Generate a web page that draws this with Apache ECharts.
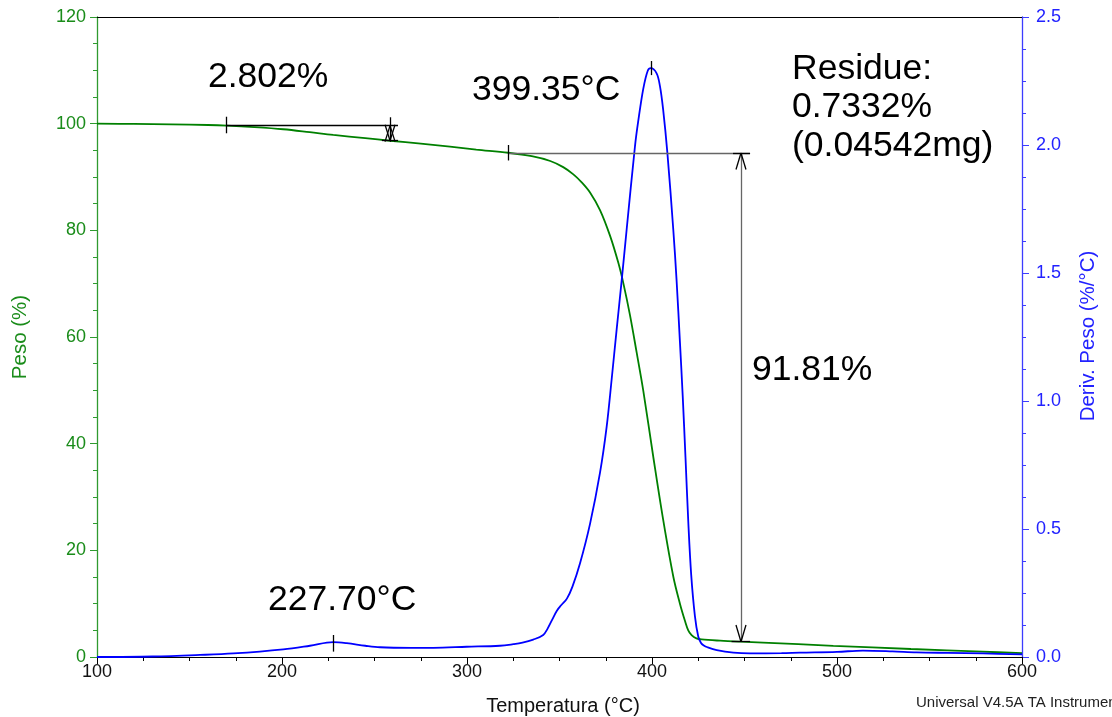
<!DOCTYPE html>
<html>
<head>
<meta charset="utf-8">
<title>TGA / DTG</title>
<script src="https://cdn.jsdelivr.net/npm/echarts@6/dist/echarts.min.js"></script>
<style>
  html, body { margin: 0; padding: 0; background: #fff; }
  #chart { width: 1112px; height: 717px; }
</style>
</head>
<body>
<div id="chart"></div>
<script>
// Weight loss curve: temperature (°C) and weight (%)
const weightTemp = [100, 120, 140, 160, 170.1, 185, 200.7, 215, 227.7, 245, 258.4, 275, 290.8, 305, 322.3, 335, 345, 352, 357.5, 362, 366.5, 371.9, 377.3, 381.8, 384.5, 388.1, 391.7, 395.3, 400.7, 406.1, 411.5, 415.1, 417.8, 419.6, 421.4, 424, 426.8, 436.8, 448, 460, 498, 540, 578.7, 600];
const weightPct  = [100.0, 99.95, 99.88, 99.75, 99.63, 99.35, 98.95, 98.4, 97.88, 97.3, 96.8, 96.25, 95.7, 95.15, 94.55, 93.9, 93.0, 91.85, 90.5, 89.0, 87.1, 83.8, 79.0, 73.9, 70.1, 64.1, 57.1, 49.9, 37.5, 25.6, 15.1, 10.0, 6.8, 5.0, 4.1, 3.5, 3.3, 3.06, 2.87, 2.7, 2.1, 1.5, 1.0, 0.7332];

// Derivative weight curve: temperature (°C) and %/°C
const derivTemp = [100, 130, 155.7, 173.7, 200.7, 215.1, 227.7, 235, 245, 253, 270, 281.8, 299.8, 317.8, 325, 330, 335.8, 341.2, 343.5, 346, 348.5, 351, 354, 357, 361.1, 366.5, 371.9, 375.5, 378.2, 380.9, 383.6, 386.3, 390.8, 392.5, 395.3, 397.7, 399.35, 402.5, 404.3, 406, 408.3, 411.5, 413.3, 415.1, 416.6, 418.1, 419.6, 421.2, 423.2, 425, 426.5, 428, 430, 435, 444, 453, 470, 480, 500, 514, 530, 543, 560, 579, 600];
const derivVal  = [0, 0.002, 0.008, 0.014, 0.030, 0.044, 0.058, 0.054, 0.044, 0.038, 0.036, 0.036, 0.040, 0.044, 0.050, 0.056, 0.068, 0.086, 0.11, 0.145, 0.18, 0.203, 0.228, 0.275, 0.366, 0.52, 0.72, 0.90, 1.085, 1.28, 1.47, 1.67, 1.995, 2.09, 2.22, 2.29, 2.30, 2.28, 2.23, 2.14, 1.97, 1.67, 1.47, 1.23, 1.02, 0.78, 0.53, 0.32, 0.16, 0.08, 0.055, 0.045, 0.038, 0.027, 0.017, 0.014, 0.015, 0.017, 0.020, 0.025, 0.022, 0.018, 0.016, 0.014, 0.010];

// Axis ranges and ticks
const tempTicks  = [100, 600, 100];   // min, max, interval
const weightTicks = [0, 120, 20];
const derivTicks = [0, 2.5, 0.5];

// Step annotations on the weight curve: [x1, y1, x2, y2, colour]
const weightMarks = [
  // 2.802 % step
  [170.1, 99.63, 262.7, 99.63, '#000'],
  [170.1, 101.3, 170.1, 98.2, '#000'],
  [258.4, 101.2, 258.4, 96.6, '#000'],
  [254.0, 96.8, 262.7, 96.8, '#000'],
  [258.4, 99.63, 255.7, 96.63, '#000'],
  [258.4, 99.63, 261.1, 96.63, '#000'],
  [258.4, 96.8, 255.7, 99.8, '#000'],
  [258.4, 96.8, 261.1, 99.8, '#000'],
  // 91.81 % step
  [322.3, 94.5, 453.0, 94.5, '#666'],
  [322.3, 96.0, 322.3, 93.1, '#000'],
  [448.1, 94.5, 448.1, 2.87, '#666'],
  [443.8, 94.5, 453.0, 94.5, '#000'],
  [448.1, 94.5, 445.4, 91.4, '#000'],
  [448.1, 94.5, 450.8, 91.4, '#000'],
  [443.0, 2.87, 453.0, 2.87, '#000'],
  [448.1, 2.87, 445.4, 6.0, '#000'],
  [448.1, 2.87, 450.8, 6.0, '#000'],
  // residue marker
  [578.7, 2.4, 578.7, -0.8, '#000']
];

// Peak markers on the derivative curve
const derivMarks = [
  [227.7, 0.086, 227.7, 0.021, '#000'],
  [399.35, 2.328, 399.35, 2.273, '#000']
];

// Text annotations
const notes = [
  ['2.802%', 208, 77],
  ['399.35°C', 472, 90],
  ['Residue:', 792, 69],
  ['0.7332%', 792, 107],
  ['(0.04542mg)', 792, 146],
  ['91.81%', 752, 370],
  ['227.70°C', 268, 600]
];

const FONT = 'Liberation Sans, Arial, Helvetica, sans-serif';
const GREEN = '#008000';
const BLUE = '#0000ff';

function toPairs(xs, ys) { return xs.map((x, i) => [x, ys[i]]); }
function toMarkLines(list) {
  return list.map(m => [
    { coord: [m[0], m[1]], lineStyle: { color: m[4], width: 1.3, type: 'solid' } },
    { coord: [m[2], m[3]] }
  ]);
}
function markLineOf(list) {
  return {
    silent: true,
    symbol: ['none', 'none'],
    label: { show: false },
    emphasis: { disabled: true },
    animation: false,
    data: toMarkLines(list)
  };
}

const chart = echarts.init(document.getElementById('chart'), null, { renderer: 'canvas' });

const graphics = notes.map(n => ({
  type: 'text', x: n[1], y: n[2], silent: true,
  style: { text: n[0], fontSize: 35.5, fontFamily: FONT, fill: '#000', align: 'left', verticalAlign: 'middle' }
}));
graphics.push(
  { type: 'text', x: 20, y: 337, rotation: Math.PI / 2, silent: true,
    style: { text: 'Peso (%)', fontSize: 20.5, fontFamily: FONT, fill: '#1a8c1a', align: 'center', verticalAlign: 'middle' } },
  { type: 'text', x: 1088, y: 336, rotation: Math.PI / 2, silent: true,
    style: { text: 'Deriv. Peso (%/°C)', fontSize: 20.5, fontFamily: FONT, fill: '#2222ff', align: 'center', verticalAlign: 'middle' } },
  { type: 'text', x: 563, y: 706, silent: true,
    style: { text: 'Temperatura (°C)', fontSize: 20, fontFamily: FONT, fill: '#111', align: 'center', verticalAlign: 'middle' } },
  { type: 'text', x: 916, y: 703, silent: true,
    style: { text: 'Universal V4.5A TA Instruments', fontSize: 15, fontFamily: FONT, fill: '#222', align: 'left', verticalAlign: 'middle' } }
);

const tickLabel = { fontSize: 18, fontFamily: FONT };

chart.setOption({
  animation: false,
  backgroundColor: '#fff',
  grid: { left: 97, right: 90, top: 17, bottom: 60, show: false },
  xAxis: [
    {
      type: 'value',
      min: tempTicks[0], max: tempTicks[1], interval: tempTicks[2],
      axisLine: { show: true, onZero: false, lineStyle: { color: '#000', width: 1 } },
      axisTick: { show: true, inside: false, length: 7, lineStyle: { color: '#000' } },
      minorTick: { show: true, splitNumber: 4, length: 4, lineStyle: { color: '#000' } },
      splitLine: { show: false },
      axisLabel: Object.assign({ color: '#111', margin: 6 }, tickLabel)
    },
    {
      // plain frame line along the top of the plot
      type: 'value', position: 'top',
      min: tempTicks[0], max: tempTicks[1], interval: tempTicks[2],
      axisLine: { show: true, onZero: false, lineStyle: { color: '#000', width: 1 } },
      axisTick: { show: false }, axisLabel: { show: false }, splitLine: { show: false }
    }
  ],
  yAxis: [
    {
      type: 'value', position: 'left',
      min: weightTicks[0], max: weightTicks[1], interval: weightTicks[2],
      axisLine: { show: true, onZero: false, lineStyle: { color: '#2f9a2f', width: 1.3 } },
      axisTick: { show: true, inside: false, length: 7, lineStyle: { color: '#2f9a2f' } },
      minorTick: { show: true, splitNumber: 4, length: 4, lineStyle: { color: '#2f9a2f' } },
      splitLine: { show: false },
      axisLabel: Object.assign({ color: '#1a8c1a', margin: 11 }, tickLabel)
    },
    {
      type: 'value', position: 'right',
      min: derivTicks[0], max: derivTicks[1], interval: derivTicks[2],
      axisLine: { show: true, onZero: false, lineStyle: { color: '#3c3cff', width: 1.3 } },
      axisTick: { show: true, inside: false, length: 7, lineStyle: { color: '#3c3cff' } },
      minorTick: { show: true, splitNumber: 4, length: 4, lineStyle: { color: '#3c3cff' } },
      splitLine: { show: false },
      axisLabel: Object.assign({ color: '#2222ff', margin: 14, formatter: v => v.toFixed(1) }, tickLabel)
    }
  ],
  series: [
    {
      name: 'Peso', type: 'line', xAxisIndex: 0, yAxisIndex: 0,
      data: toPairs(weightTemp, weightPct),
      showSymbol: false, symbol: 'none', smooth: 0.35,
      lineStyle: { color: GREEN, width: 1.8 },
      markLine: markLineOf(weightMarks),
      z: 3
    },
    {
      name: 'Deriv. Peso', type: 'line', xAxisIndex: 0, yAxisIndex: 1,
      data: toPairs(derivTemp, derivVal),
      showSymbol: false, symbol: 'none', smooth: 0.35,
      lineStyle: { color: BLUE, width: 1.8 },
      markLine: markLineOf(derivMarks),
      z: 4
    }
  ],
  graphic: graphics
});
</script>
</body>
</html>
